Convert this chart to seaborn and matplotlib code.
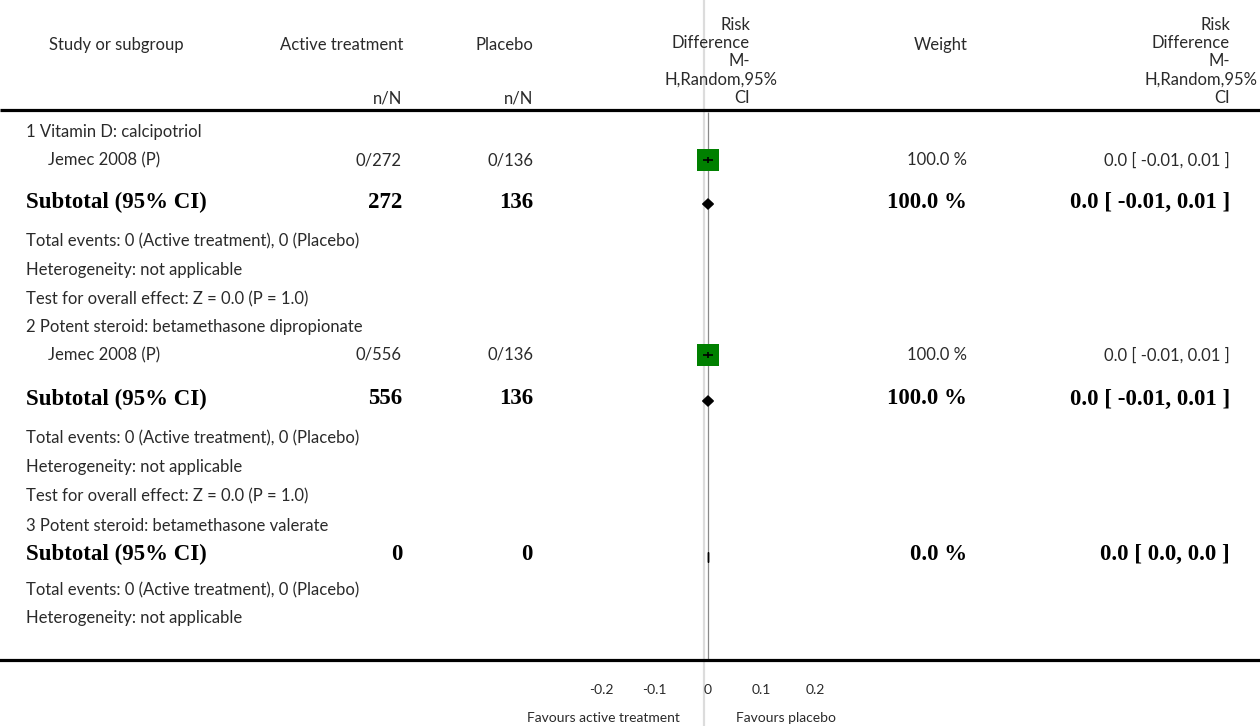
import numpy as np
import matplotlib

matplotlib.use('Agg')
import matplotlib.pyplot as plt
import seaborn as sns

# study rows
study_names = ['Jemec 2008 (P)', 'Jemec 2008 (P)']
study_active = ['0/272', '0/556']
study_placebo = ['0/136', '0/136']
study_rd = [0.0, 0.0]
study_lo = [-0.01, -0.01]
study_hi = [0.01, 0.01]
study_weight = [100.0, 100.0]

# subgroups
group_names = ['1 Vitamin D: calcipotriol',
               '2 Potent steroid: betamethasone dipropionate',
               '3 Potent steroid: betamethasone valerate']
sub_active = [272, 556, 0]
sub_placebo = [136, 136, 0]
sub_rd = [0.0, 0.0, 0.0]
sub_lo = [-0.01, -0.01, 0.0]
sub_hi = [0.01, 0.01, 0.0]
sub_weight = [100.0, 100.0, 0.0]
sub_ci_text = ['0.0 [ -0.01, 0.01 ]', '0.0 [ -0.01, 0.01 ]', '0.0 [ 0.0, 0.0 ]']
study_ci_text = ['0.0 [ -0.01, 0.01 ]', '0.0 [ -0.01, 0.01 ]']
total_events = 'Total events: 0 (Active treatment), 0 (Placebo)'
heterogeneity = 'Heterogeneity: not applicable'
overall = ['Test for overall effect: Z = 0.0 (P = 1.0)',
           'Test for overall effect: Z = 0.0 (P = 1.0)', None]

tick_vals = [-0.2, -0.1, 0, 0.1, 0.2]
tick_labels = ['-0.2', '-0.1', '0', '0.1', '0.2']

# layout (pixel rows from the top)
W, H = 1260, 726
AXIS_Y = 660
ZERO_X = 708
PX_PER_UNIT = 535
group_y = [132, 327, 526]
study_y = [160, 355]
sub_y = [204, 401, 557]
sub_text_y = [202, 399, 554]
after_y = [[241, 270, 299], [438, 467, 496], [590, 618]]

sns.set_style('white')
plt.rcParams['font.family'] = ['Lato', 'DejaVu Sans']
TXT = '#2a2a2a'
SERIF = 'Liberation Serif'

fig = plt.figure(figsize=(W / 100, H / 100), dpi=100)
tab = fig.add_axes([0, 0, 1, 1])
tab.set_xlim(0, W)
tab.set_ylim(H, 0)
tab.axis('off')

ax = fig.add_axes([0, (H - AXIS_Y) / H, 1, AXIS_Y / H])
ax.patch.set_visible(False)
ax.set_xlim(-ZERO_X / PX_PER_UNIT, (W - ZERO_X) / PX_PER_UNIT)
ax.set_ylim(AXIS_Y, 0)

# background lines
tab.vlines(704, 0, H, color='#dcdcdc', lw=1.6, zorder=0)
tab.hlines(110, 0, W, color='black', lw=2.3)
ax.vlines(0, 112, AXIS_Y, color='#8a8a8a', lw=0.9, zorder=1)

# header
hs = 12
tab.text(49, 45, 'Study or subgroup', fontsize=hs, color=TXT, va='center', ha='left')
tab.text(403, 45, 'Active treatment', fontsize=hs, color=TXT, va='center', ha='right')
tab.text(533, 45, 'Placebo', fontsize=hs, color=TXT, va='center', ha='right')
tab.text(402, 98, 'n/N', fontsize=hs, color=TXT, va='center', ha='right')
tab.text(533, 98, 'n/N', fontsize=hs, color=TXT, va='center', ha='right')
tab.text(968, 45, 'Weight', fontsize=hs, color=TXT, va='center', ha='right')
head_lines = ['Risk', 'Difference', 'M-', 'H,Random,95%', 'CI']
for i, s in enumerate(head_lines):
    y = 25 + 18.2 * i
    off = 28 if s.startswith('H,') else 0
    tab.text(750 + off, y, s, fontsize=hs, color=TXT, va='center', ha='right')
    off = 27 if s.startswith('H,') else 0
    tab.text(1230 + off, y, s, fontsize=hs, color=TXT, va='center', ha='right')

# body text
bs = 12
LEFT = 26
for g in range(3):
    tab.text(LEFT, group_y[g], group_names[g], fontsize=bs, color=TXT, va='center')
    if g < 2:
        y = study_y[g]
        tab.text(48, y, study_names[g], fontsize=bs, color=TXT, va='center')
        tab.text(402, y, study_active[g], fontsize=bs, color=TXT, va='center', ha='right')
        tab.text(533, y, study_placebo[g], fontsize=bs, color=TXT, va='center', ha='right')
        tab.text(967, y, f'{study_weight[g]:.1f} %', fontsize=bs, color=TXT, va='center', ha='right')
        tab.text(1230, y, study_ci_text[g], fontsize=bs, color=TXT, va='center', ha='right')
    y = sub_text_y[g]
    bold = dict(fontsize=16.5, family=SERIF, weight='bold', color='black', va='center')
    tab.text(LEFT, y, 'Subtotal (95% CI)', **bold)
    tab.text(402, y, str(sub_active[g]), ha='right', **bold)
    tab.text(533, y, str(sub_placebo[g]), ha='right', **bold)
    tab.text(967, y, f'{sub_weight[g]:.1f} %', ha='right', **bold)
    tab.text(1230, y, sub_ci_text[g], ha='right', **bold)
    lines = [total_events, heterogeneity] + ([overall[g]] if overall[g] else [])
    for s, yy in zip(lines, after_y[g]):
        tab.text(LEFT, yy, s, fontsize=bs, color=TXT, va='center')

# study markers
ax.hlines(study_y, study_lo, study_hi, color='black', lw=1.2, zorder=4)
sns.scatterplot(x=study_rd, y=study_y, marker='s', s=250, color='#008000',
                edgecolor='none', ax=ax, legend=False, zorder=3)
ax.plot(study_rd, study_y, marker='|', ms=5, mew=1.2, color='black', ls='none', zorder=5)

# subtotal diamonds
for est, lo, hi, y in zip(sub_rd, sub_lo, sub_hi, sub_y):
    ax.fill([lo, est, hi, est], [y, y - 5, y, y + 5], facecolor='black',
            edgecolor='black', lw=1, zorder=5)

# axis
for side in ['top', 'left', 'right']:
    ax.spines[side].set_visible(False)
ax.spines['bottom'].set_linewidth(2.3)
ax.spines['bottom'].set_color('black')
ax.set_xticks(tick_vals)
ax.set_xticklabels(tick_labels)
ax.set_yticks([])
ax.tick_params(axis='x', direction='in', length=4, width=2.2, colors='black',
               labelsize=10, labelcolor=TXT, pad=17)
ax.set_xlabel('')
ax.set_ylabel('')

tab.text(680, 718, 'Favours active treatment', fontsize=10, color=TXT, va='center', ha='right')
tab.text(736, 718, 'Favours placebo', fontsize=10, color=TXT, va='center', ha='left')

fig.savefig('out.png', dpi=100)
